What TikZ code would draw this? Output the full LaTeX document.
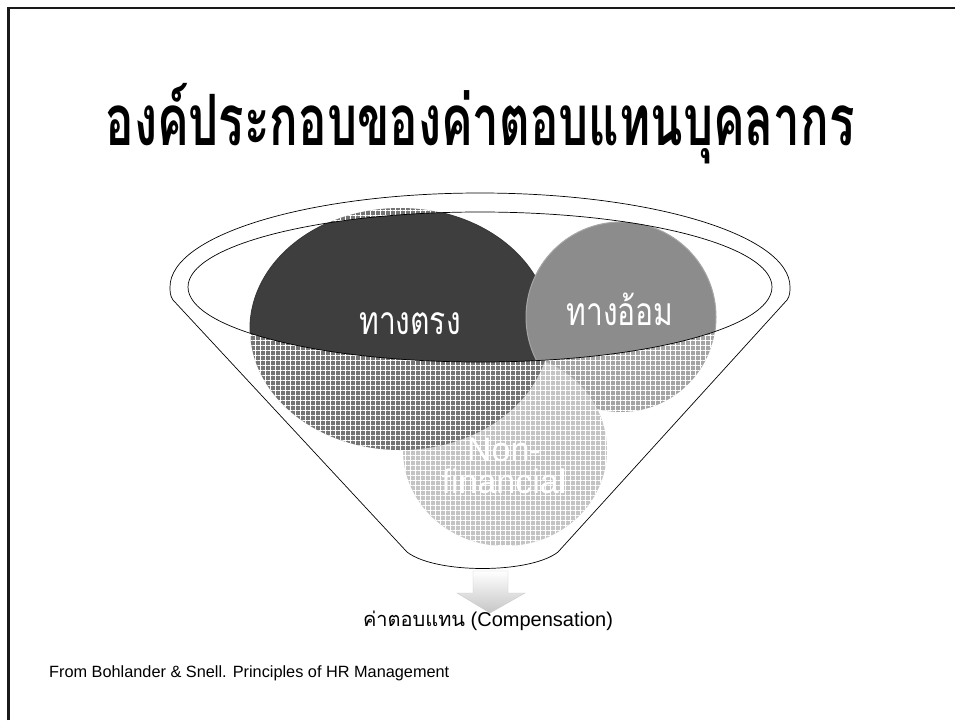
\documentclass[tikz,border=0pt]{standalone}
\usepackage{fontspec}
\setmainfont{Liberation Sans}
\newfontfamily\thaifont[Script=Thai]{Loma}
\usetikzlibrary{patterns.meta}
\definecolor{darkc}{HTML}{3E3E3E}
\definecolor{darkh}{HTML}{747474}
\definecolor{greyc}{HTML}{8C8C8C}
\definecolor{greyh}{HTML}{A4A4A4}
\definecolor{lighth}{HTML}{C4C4C4}
\definecolor{framec}{HTML}{1A1A1A}
\tikzset{
  gridhatch/.style={pattern={Hatch[distance=5pt,line width=0.7pt]},pattern color=white,fill opacity=0.55},
  lighthatch/.style={pattern={Hatch[distance=5pt,line width=0.6pt]},pattern color=white,fill opacity=0.3},
  funnelline/.style={draw=black,line width=0.7pt},
  circtext/.style={text=white,font=\thaifont\fontsize{30}{30}\selectfont},
}
\begin{document}
\begin{tikzpicture}[x=1pt,y=-1pt]
\useasboundingbox (0,0) rectangle (955,720);
\fill[white] (0,0) rectangle (955,720);
% frame
\draw[framec,line width=2.5pt] (8.5,720) -- (8.5,8) -- (955,8);
% title
\node (title) at (480,124) {\scalebox{0.79}[1.18]{\thaifont\bfseries\fontsize{60}{60}\selectfont องค์ประกอบของค่าตอบแทนบุคลากร}};
% hatched circles (outside the bowl)
\fill[greyh] (621,317) ellipse [x radius=95,y radius=95];
\fill[gridhatch] (621,317) ellipse [x radius=95,y radius=95];
\fill[lighth] (505,450) ellipse [x radius=102,y radius=96];
\fill[lighthatch] (505,450) ellipse [x radius=102,y radius=96];
\node[text=white,font=\fontsize{34}{32}\selectfont,align=center] (nonfin) at (504,466) {Non-\\financial};
\fill[darkh] (400,329) ellipse [x radius=150,y radius=121];
\fill[gridhatch] (400,329) ellipse [x radius=150,y radius=121];
% solid parts inside the bowl
\begin{scope}
  \clip (480,287) ellipse [x radius=292,y radius=75];
  \fill[darkc,draw=gray!45!black,line width=1pt] (400,329) ellipse [x radius=150,y radius=121];
  \fill[greyc,draw=gray!70,line width=1pt] (621,317) ellipse [x radius=95,y radius=95];
\end{scope}
\node[circtext] (direct) at (410,324) {\scalebox{1}[1.3]{ทางตรง}};
\node[circtext] (indirect) at (620,309) {\scalebox{1}[1.3]{ทางอ้อม}};
% funnel outline
\draw[funnelline] (173,300) .. controls (170,296) and (170,291) .. (170,287)
  arc[start angle=180,end angle=360,x radius=310,y radius=94]
  .. controls (790,291) and (790,296) .. (787,300)
  -- (558,552) .. controls (530,574) and (435,574) .. (407,552) -- cycle;
\draw[funnelline] (480,287) ellipse [x radius=292,y radius=75];
% arrow
\path[top color=white,bottom color=gray!45,draw=gray!40,line width=0.4pt]
  (473,571) -- (508,571) -- (508,593) -- (525,593) -- (490,613) -- (457,593) -- (473,593) -- cycle;
\coordinate (arrowtip) at (490,613);
\node[anchor=north,font=\fontsize{20}{22}\selectfont,inner sep=1pt] (comp) at (488,610) {{\thaifont ค่าตอบแทน} (Compensation)};
% footer
\node[anchor=west,font=\fontsize{16.3}{18}\selectfont,inner sep=0pt] (src) at (49,673) {From Bohlander \& Snell. Principles of HR Management};
\end{tikzpicture}
\end{document}
